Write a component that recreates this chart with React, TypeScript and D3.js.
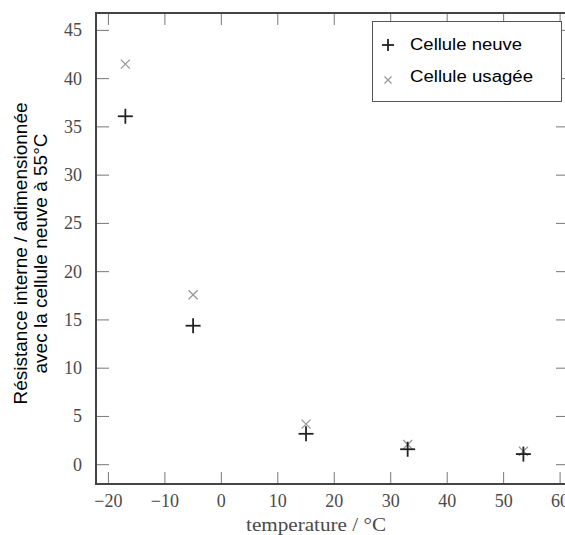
import React from "react";
import * as d3 from "d3";

const temperatures = [-17, -5, 15, 33, 53.5];
const celluleNeuve = [36.1, 14.4, 3.2, 1.6, 1.1];
const celluleUsagee = [41.5, 17.6, 4.2, 2.1, 1.4];
const xTicks = [-20, -10, 0, 10, 20, 30, 40, 50, 60];
const yTicks = [0, 5, 10, 15, 20, 25, 30, 35, 40, 45];
const seriesLabels = ["Cellule neuve", "Cellule usagée"];
const xLabel = "temperature / °C";
const yLabelLines = ["Résistance interne / adimensionnée", "avec la cellule neuve à 55°C"];

const W = 565;
const H = 535;
const left = 96, right = 568, top = 13, bottom = 484;

export default function App() {
  const x = d3.scaleLinear().domain([-22.2, 61.4]).range([left, right]);
  const y = d3.scaleLinear().domain([-2, 46.8]).range([bottom, top]);
  const serif = "'Liberation Serif', 'Times New Roman', serif";
  const sans = "'Liberation Sans', Arial, sans-serif";
  const tickColor = "#777";
  const labelColor = "#4a4a4a";
  const plus = (cx: number, cy: number, s: number, key: string) => (
    <g key={key} stroke="#222" strokeWidth={1.8}>
      <line x1={cx - s} x2={cx + s} y1={cy} y2={cy} />
      <line x1={cx} x2={cx} y1={cy - s} y2={cy + s} />
    </g>
  );
  const cross = (cx: number, cy: number, s: number, key: string) => (
    <g key={key} stroke="#999" strokeWidth={1.3}>
      <line x1={cx - s} x2={cx + s} y1={cy - s} y2={cy + s} />
      <line x1={cx - s} x2={cx + s} y1={cy + s} y2={cy - s} />
    </g>
  );
  return (
    <svg width={W} height={H} style={{ position: "absolute", left: 0, top: 0, background: "#fff" }}>
      {xTicks.map((t) => (
        <g key={"xt" + t} stroke={tickColor} strokeWidth={1}>
          <line x1={x(t)} x2={x(t)} y1={bottom} y2={bottom - 12} />
          <line x1={x(t)} x2={x(t)} y1={top} y2={top + 12} />
        </g>
      ))}
      {yTicks.map((t) => (
        <g key={"yt" + t} stroke={tickColor} strokeWidth={1}>
          <line x1={left} x2={left + 13} y1={y(t)} y2={y(t)} />
          <line x1={right} x2={right - 12} y1={y(t)} y2={y(t)} />
        </g>
      ))}
      <rect x={left} y={top} width={right - left} height={bottom - top} fill="none" stroke="#444" strokeWidth={2} />
      {xTicks.map((t) => (
        <text key={"xl" + t} x={x(t)} y={507} textAnchor="middle" fontFamily={serif} fontSize={18} fill={labelColor}>
          {t < 0 ? "\u2212" + Math.abs(t) : String(t)}
        </text>
      ))}
      {yTicks.map((t) => (
        <text key={"yl" + t} x={82} y={y(t) + 6} textAnchor="end" fontFamily={serif} fontSize={18} fill={labelColor}>
          {t}
        </text>
      ))}
      <text x={316} y={531} textAnchor="middle" fontFamily={serif} fontSize={19} fill={labelColor} textLength={140} lengthAdjust="spacingAndGlyphs">
        {xLabel}
      </text>
      <g transform="translate(27,253.5) rotate(-90)">
        <text x={0} y={0} textAnchor="middle" fontFamily={sans} fontSize={19} fill="#000">
          {yLabelLines[0]}
        </text>
      </g>
      <g transform="translate(47,253.5) rotate(-90)">
        <text x={0} y={0} textAnchor="middle" fontFamily={sans} fontSize={19} fill="#000">
          {yLabelLines[1]}
        </text>
      </g>
      {temperatures.map((t, i) => cross(x(t), y(celluleUsagee[i]), 4.5, "u" + i))}
      {temperatures.map((t, i) => plus(x(t), y(celluleNeuve[i]), 7.5, "n" + i))}
      <rect x={372.5} y={21.5} width={189} height={80} fill="#fff" stroke="#555" strokeWidth={1} />
      {plus(388, 45, 6, "lp")}
      <text x={410} y={50} fontFamily={sans} fontSize={16} fill="#000" textLength={112} lengthAdjust="spacingAndGlyphs">
        {seriesLabels[0]}
      </text>
      {cross(388, 80, 3.5, "lx")}
      <text x={410} y={82} fontFamily={sans} fontSize={16} fill="#000" textLength={123} lengthAdjust="spacingAndGlyphs">
        {seriesLabels[1]}
      </text>
    </svg>
  );
}
